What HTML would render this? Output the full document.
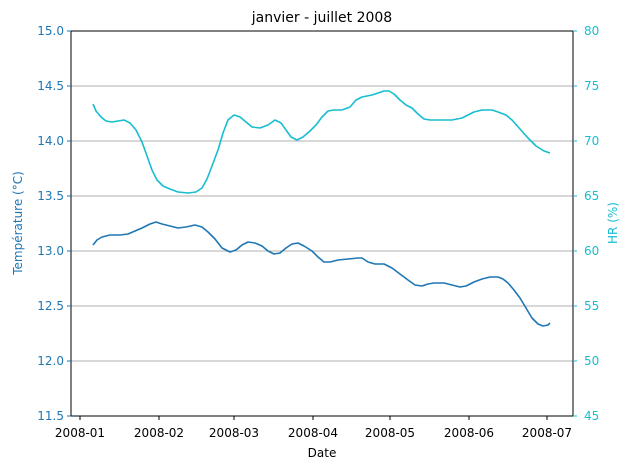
<!DOCTYPE html>
<html><head><style>body{margin:0;background:#fff}svg{display:block;font-family:"DejaVu Sans","Liberation Sans",sans-serif}</style></head><body>
<svg width="630" height="470" viewBox="0 0 630 470">
<g stroke="#b0b0b0" stroke-width="0.9">
<line x1="71" x2="573" y1="86" y2="86"/><line x1="71" x2="573" y1="141" y2="141"/><line x1="71" x2="573" y1="196" y2="196"/><line x1="71" x2="573" y1="251" y2="251"/><line x1="71" x2="573" y1="306" y2="306"/><line x1="71" x2="573" y1="361" y2="361"/>
</g>
<polyline fill="none" stroke="#1f77b4" stroke-width="1.6" stroke-linejoin="round" points="93,245 97,240 102,237 110,235 120,235 128,234 135,231 142,228 150,224 156,222 162,224 170,226 178,228 186,227 195,225 202,227 208,232 215,239 222,248 230,252 236,250 242,245 248,242 255,243 262,246 268,251 274,254 280,253 286,248 292,244 298,243 304,246 312,251 318,257 324,262 330,262 338,260 348,259 358,258 362,258 368,262 375,264 384,264 392,268 400,274 408,280 415,285 422,286 428,284 434,283 444,283 452,285 460,287 466,286 474,282 482,279 490,277 498,277 503,279 508,283 514,290 520,298 526,308 532,318 538,324 543,326 548,325 550,323"/>
<polyline fill="none" stroke="#17becf" stroke-width="1.6" stroke-linejoin="round" points="93,104 96,111 101,117 106,121 112,122 118,121 124,120 130,123 136,130 142,142 147,156 152,170 157,180 163,186 170,189 178,192 188,193 196,192 202,188 207,179 212,166 218,150 223,133 228,120 234,115 240,117 246,122 252,127 260,128 268,125 275,120 281,123 286,130 291,137 297,140 303,137 310,131 316,125 322,117 328,111 334,110 342,110 350,107 356,100 362,97 372,95 378,93 384,91 389,91 394,94 400,100 406,105 412,108 418,114 424,119 430,120 440,120 452,120 462,118 468,115 474,112 482,110 492,110 498,112 506,115 512,120 520,129 528,138 536,146 544,151 550,153"/>
<rect x="71" y="31" width="502" height="385" fill="none" stroke="#000" stroke-width="1"/>
<g stroke="#000"><line x1="80" x2="80" y1="416" y2="420"/><line x1="159" x2="159" y1="416" y2="420"/><line x1="234" x2="234" y1="416" y2="420"/><line x1="313" x2="313" y1="416" y2="420"/><line x1="390" x2="390" y1="416" y2="420"/><line x1="469" x2="469" y1="416" y2="420"/><line x1="547" x2="547" y1="416" y2="420"/></g>
<g font-size="12" text-anchor="middle" fill="#000"><text x="80" y="437">2008-01</text><text x="159" y="437">2008-02</text><text x="234" y="437">2008-03</text><text x="313" y="437">2008-04</text><text x="390" y="437">2008-05</text><text x="469" y="437">2008-06</text><text x="547" y="437">2008-07</text>
<text x="322" y="457">Date</text><text x="322" y="22" font-size="14">janvier - juillet 2008</text></g>
<g stroke="#1f77b4"><line x1="67" x2="71" y1="31" y2="31"/><line x1="67" x2="71" y1="86" y2="86"/><line x1="67" x2="71" y1="141" y2="141"/><line x1="67" x2="71" y1="196" y2="196"/><line x1="67" x2="71" y1="251" y2="251"/><line x1="67" x2="71" y1="306" y2="306"/><line x1="67" x2="71" y1="361" y2="361"/><line x1="67" x2="71" y1="416" y2="416"/></g>
<g font-size="12" text-anchor="end" fill="#1f77b4"><text x="64" y="35">15.0</text><text x="64" y="90">14.5</text><text x="64" y="145">14.0</text><text x="64" y="200">13.5</text><text x="64" y="255">13.0</text><text x="64" y="310">12.5</text><text x="64" y="365">12.0</text><text x="64" y="420">11.5</text></g>
<text transform="translate(22,223) rotate(-90)" font-size="12" text-anchor="middle" fill="#1f77b4">Température (°C)</text>
<g stroke="#17becf"><line x1="573" x2="577" y1="31" y2="31"/><line x1="573" x2="577" y1="86" y2="86"/><line x1="573" x2="577" y1="141" y2="141"/><line x1="573" x2="577" y1="196" y2="196"/><line x1="573" x2="577" y1="251" y2="251"/><line x1="573" x2="577" y1="306" y2="306"/><line x1="573" x2="577" y1="361" y2="361"/><line x1="573" x2="577" y1="416" y2="416"/></g>
<g font-size="12" fill="#17becf"><text x="584" y="35">80</text><text x="584" y="90">75</text><text x="584" y="145">70</text><text x="584" y="200">65</text><text x="584" y="255">60</text><text x="584" y="310">55</text><text x="584" y="365">50</text><text x="584" y="420">45</text></g>
<text transform="translate(617,223) rotate(-90)" font-size="12" text-anchor="middle" fill="#17becf">HR (%)</text>
</svg>
</body></html>
